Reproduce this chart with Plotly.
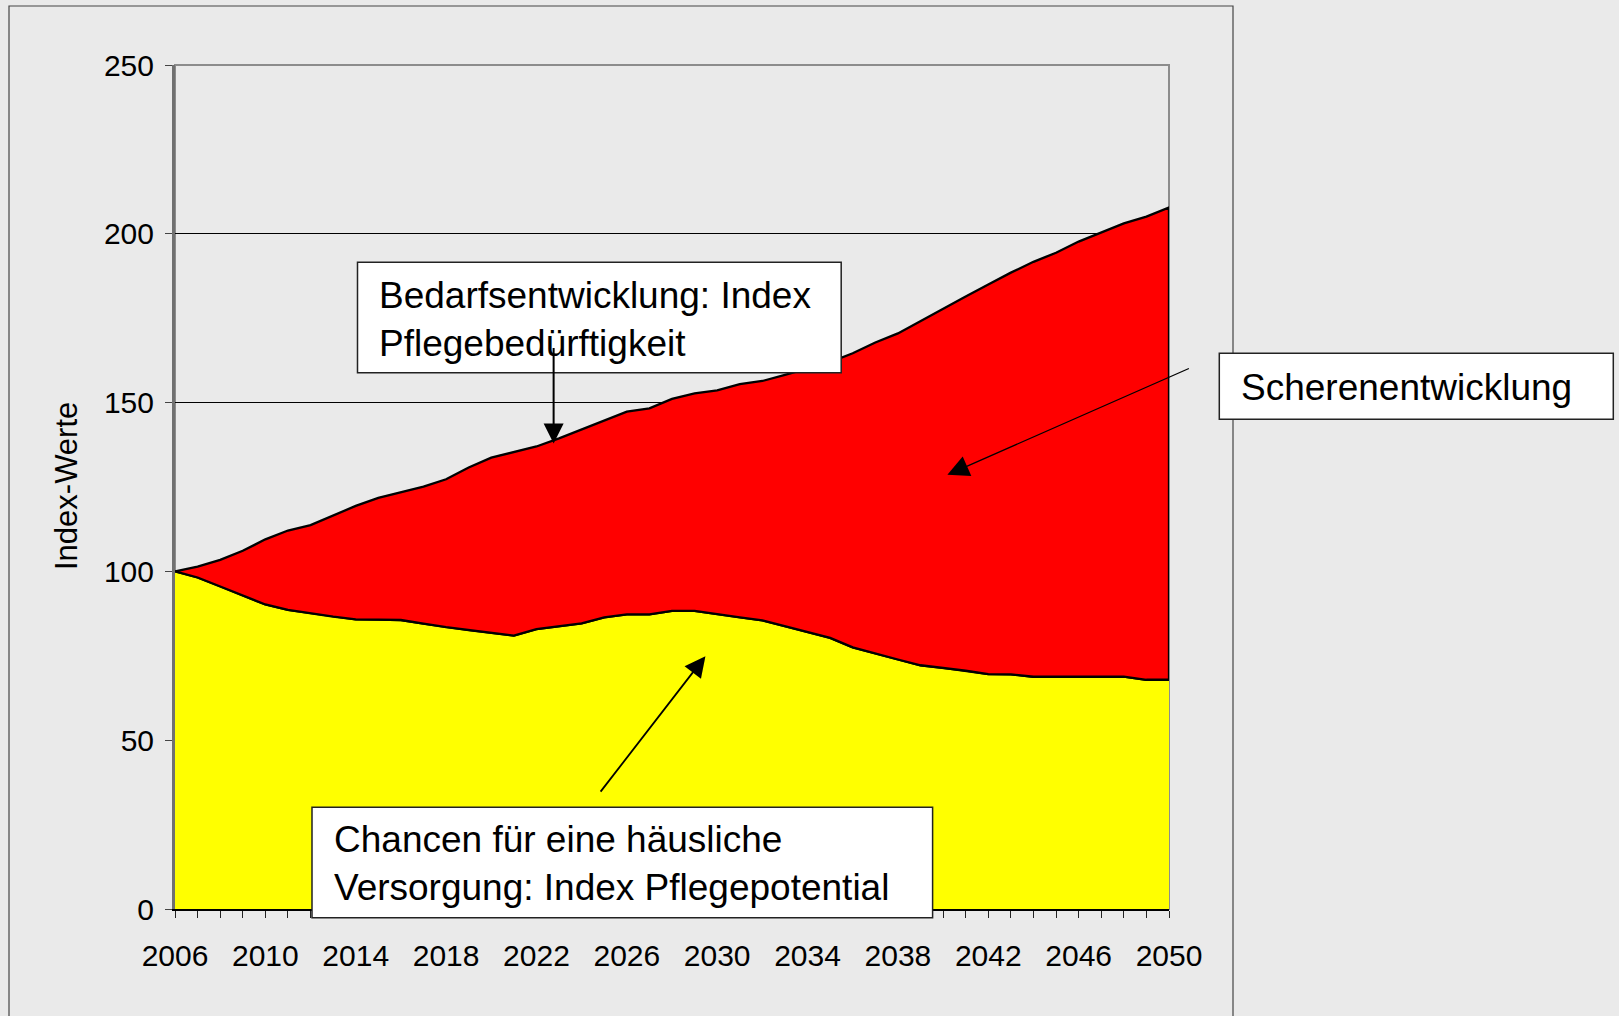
import plotly.graph_objects as go

# Jahre und Indexwerte (2006 = 100)
jahre = list(range(2006, 2051))
bedarf = [100.0, 101.4, 103.4, 106.1, 109.5, 112.1, 113.7, 116.6, 119.4, 121.8,
          123.4, 125.1, 127.3, 130.8, 133.7, 135.4, 137.0, 139.4, 142.0, 144.6,
          147.3, 148.3, 151.1, 152.7, 153.6, 155.5, 156.4, 158.2, 160.2, 162.0,
          164.6, 167.8, 170.5, 174.2, 177.8, 181.4, 185.0, 188.5, 191.7, 194.4,
          197.7, 200.3, 203.1, 205.1, 207.8]
potential = [100.0, 98.2, 95.6, 92.8, 90.2, 88.6, 87.6, 86.6, 85.8, 85.7,
             85.6, 84.5, 83.5, 82.6, 81.8, 81.0, 82.9, 83.7, 84.6, 86.4,
             87.3, 87.3, 88.3, 88.3, 87.4, 86.4, 85.5, 83.8, 82.1, 80.3,
             77.5, 75.7, 73.9, 72.2, 71.4, 70.6, 69.6, 69.5, 68.8, 68.8,
             68.8, 68.8, 68.8, 67.9, 67.9]
y_ticks = [0, 50, 100, 150, 200, 250]
x_labels = [str(j) if (j - 2006) % 4 == 0 else '' for j in jahre]

FONT = 'Liberation Sans, Arial, sans-serif'
BG = '#eaeaea'

W, H = 1619, 1016
# Zeichenfläche in Pixeln
L, R, T, B = 175, 1169, 65, 909

def px(p):
    return (p - L) / (R - L)

def py(p):
    return (B - p) / (B - T)

fig = go.Figure()

fig.add_trace(go.Scatter(
    x=jahre, y=potential, mode='lines', fill='tozeroy',
    fillcolor='#ffff00', line=dict(color='black', width=2.3),
    name='Pflegepotential', hoverinfo='x+y'
))
fig.add_trace(go.Scatter(
    x=jahre + jahre[::-1], y=bedarf + potential[::-1], mode='lines', fill='toself',
    fillcolor='#ff0000', line=dict(color='black', width=2.3),
    name='Pflegebedürftigkeit', hoverinfo='x+y'
))

fig.update_xaxes(
    range=[2006, 2050], tickvals=jahre, ticktext=x_labels,
    ticks='outside', ticklen=7, tickcolor='#222222', tickwidth=1,
    showline=True, linecolor='black', linewidth=2,
    showgrid=False, zeroline=False,
    tickfont=dict(family=FONT, size=30, color='black'),
    ticklabelstandoff=12
)
fig.update_yaxes(
    range=[0, 250], tickvals=y_ticks,
    ticks='outside', ticklen=7, tickcolor='#444444', tickwidth=1,
    showline=True, linecolor='#707070', linewidth=3,
    showgrid=True, gridcolor='black', gridwidth=1, zeroline=False,
    tickfont=dict(family=FONT, size=30, color='black'),
    ticklabelstandoff=5
)

shapes = [
    # äußerer Diagrammrahmen
    dict(type='rect', xref='paper', yref='paper', layer='below',
         x0=px(9), x1=px(1233), y0=py(1030), y1=py(6),
         line=dict(color='#444444', width=1.2)),
    # Rahmen der Zeichenfläche
    dict(type='rect', xref='paper', yref='paper', layer='between',
         x0=0, x1=1, y0=0, y1=1,
         line=dict(color='#8c8c8c', width=2)),
]
boxes = [(357.5, 262.3, 841.2, 372.7), (1219.3, 353.3, 1613.3, 419.3),
         (312.0, 807.3, 932.6, 917.7)]
for x0, y0, x1, y1 in boxes:
    shapes.append(dict(type='rect', xref='paper', yref='paper', layer='above',
                       x0=px(x0), x1=px(x1), y0=py(y1), y1=py(y0),
                       fillcolor='white', line=dict(color='#222222', width=1.5)))

txt = dict(family=FONT, size=37, color='black')
annotations = [
    dict(xref='paper', yref='paper', x=px(376.5), y=py(319), xanchor='left',
         yanchor='middle', align='left', showarrow=False, font=txt,
         text='Bedarfsentwicklung: Index<br>Pflegebedürftigkeit'),
    dict(xref='paper', yref='paper', x=px(1239), y=py(387), xanchor='left',
         yanchor='middle', align='left', showarrow=False, font=txt,
         text='Scherenentwicklung'),
    dict(xref='paper', yref='paper', x=px(331.5), y=py(863), xanchor='left',
         yanchor='middle', align='left', showarrow=False, font=txt,
         text='Chancen für eine häusliche<br>Versorgung: Index Pflegepotential'),
    # Pfeile
    dict(x=2022.76, y=137.9, xref='x', yref='y', text='', showarrow=True,
         ax=0, ay=-97, arrowhead=2, arrowwidth=2, arrowsize=2, arrowcolor='black'),
    dict(x=2040.19, y=128.6, xref='x', yref='y', text='', showarrow=True,
         ax=243, ay=-107, arrowhead=2, arrowwidth=1.3, arrowsize=3.3, arrowcolor='black'),
    dict(x=2029.48, y=74.9, xref='x', yref='y', text='', showarrow=True,
         ax=-106, ay=137, arrowhead=2, arrowwidth=1.8, arrowsize=2.3, arrowcolor='black'),
    # Achsentitel
    dict(xref='paper', yref='paper', x=px(67), y=py(486), textangle=-90,
         xanchor='center', yanchor='middle', showarrow=False,
         font=dict(family=FONT, size=31, color='black'), text='Index-Werte'),
]

fig.update_layout(
    width=W, height=H,
    margin=dict(l=L, r=W - R, t=T, b=H - B),
    paper_bgcolor=BG, plot_bgcolor=BG,
    showlegend=False,
    shapes=shapes, annotations=annotations,
    font=dict(family=FONT, color='black')
)

# Seitenrand entfernen, damit die Figur bei (0,0) beginnt
fig.write_html("out.html", config={'displayModeBar': False},
               post_script="document.body.style.margin='0';"
                           "document.body.style.background='#eaeaea';")
